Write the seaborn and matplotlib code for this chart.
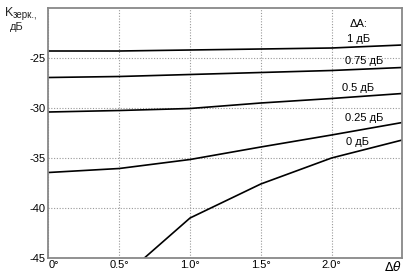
import matplotlib
matplotlib.use("Agg")
import matplotlib.pyplot as plt
import seaborn as sns
import pandas as pd
import numpy as np

# Data
theta = [0.0, 0.5, 1.0, 1.5, 2.0, 2.5]
k_1db = [-24.3, -24.3, -24.2, -24.1, -24.0, -23.7]
k_075db = [-26.95, -26.85, -26.65, -26.45, -26.25, -25.95]
k_05db = [-30.4, -30.25, -30.05, -29.5, -29.05, -28.55]
k_025db = [-36.45, -36.05, -35.15, -33.9, -32.7, -31.45]
k_0db = [np.nan, -47.2, -41.0, -37.6, -35.0, -33.2]
series_names = ["1 дБ", "0.75 дБ", "0.5 дБ", "0.25 дБ", "0 дБ"]
series_values = [k_1db, k_075db, k_05db, k_025db, k_0db]
x_ticks = [0.0, 0.5, 1.0, 1.5, 2.0, 2.5]
x_ticklabels = ["0°", "0.5°", "1.0°", "1.5°", "2.0°", r"$\Delta\theta$"]
y_ticks = [-45, -40, -35, -30, -25]
y_ticklabels = ["-45", "-40", "-35", "-30", "-25"]

rows = []
for name, vals in zip(series_names, series_values):
    for t, v in zip(theta, vals):
        rows.append({"theta": t, "K": v, "series": name})
df = pd.DataFrame(rows).dropna()

sns.set_theme(style="white")
plt.rcParams["font.family"] = ["Liberation Sans", "DejaVu Sans"]

fig = plt.figure(figsize=(4.10, 2.73), dpi=100)
ax = fig.add_axes([48.5 / 410, 15 / 273, (402.3 - 48.5) / 410, 250 / 273])

sns.lineplot(data=df, x="theta", y="K", units="series", estimator=None,
             color="black", linewidth=1.2, ax=ax, legend=False)

ax.set_xlim(0, 2.5)
ax.set_ylim(-45, -20)
ax.set_xticks(x_ticks)
ax.set_xticklabels(x_ticklabels, fontsize=8)
ax.set_yticks(y_ticks)
ax.set_yticklabels(y_ticklabels, fontsize=8)
ax.tick_params(axis="both", length=0, pad=1.5, colors="black")
ax.tick_params(axis="y", pad=2)
labs = ax.get_xticklabels()
labs[0].set_ha("left")
labs[-1].set_ha("right")
labs[-1].set_fontsize(9)
ax.set_xlabel("")
ax.set_ylabel("")

ax.grid(True, linestyle=(0, (1, 1.5)), color="#999999", linewidth=0.8)
for s in ax.spines.values():
    s.set_color("#888888")
    s.set_linewidth(1.3)
    s.set_visible(True)

# Series labels
lbl_kw = dict(fontsize=8, ha="center", va="center", color="black")
ax.text(2.19, -21.6, "ΔA:", **lbl_kw)
ax.text(2.19, -23.1, "1 дБ", **lbl_kw)
ax.text(2.23, -25.3, "0.75 дБ", **lbl_kw)
ax.text(2.19, -28.0, "0.5 дБ", **lbl_kw)
ax.text(2.23, -31.0, "0.25 дБ", **lbl_kw)
ax.text(2.18, -33.4, "0 дБ", **lbl_kw)

# Y-axis title
fig.text(5 / 410, 1 - 16 / 273, "K", fontsize=9, ha="left", va="baseline")
fig.text(13 / 410, 1 - 18 / 273, "зерк.,", fontsize=7, ha="left", va="baseline")
fig.text(10 / 410, 1 - 30 / 273, "дБ", fontsize=8, ha="left", va="baseline")

fig.savefig("out.png", dpi=100)
